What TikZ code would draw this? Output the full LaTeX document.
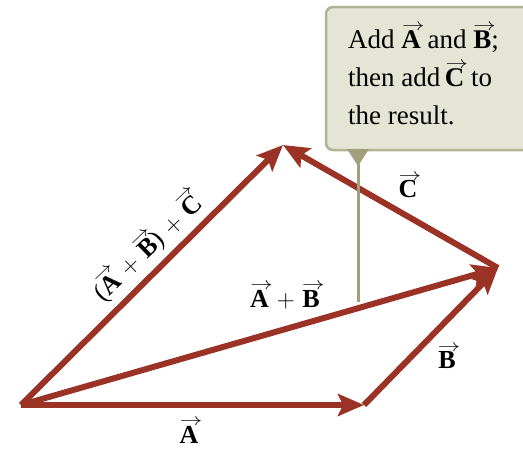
\documentclass[tikz,border=0pt]{standalone}
\usepackage{fontspec}
\setmainfont{Liberation Serif}
\usetikzlibrary{arrows.meta}
\definecolor{vecred}{RGB}{155,50,38}
\definecolor{boxfill}{RGB}{229,229,214}
\definecolor{boxline}{RGB}{178,178,150}
\definecolor{pointer}{RGB}{160,160,125}
\newcommand{\vb}[1]{\leavevmode\setbox0\hbox{\bfseries #1}%
  \rlap{\raisebox{\dimexpr\ht0+0.5pt\relax}{\hspace{0.08em}\makebox[\wd0]{\scalebox{0.9}[0.7]{$\rightarrow$}}}}\box0\relax}
\newcommand{\plusop}{\hspace{0.3em}$+$\hspace{0.3em}}
\tikzset{
  vec/.style={draw=vecred, line width=6pt, line join=miter,
    -{Stealth[length=26pt,width=22pt,inset=5pt]}},
  lbl/.style={font=\fontsize{26}{30}\selectfont, inner sep=0pt},
  calltext/.style={font=\fontsize{27}{38}\selectfont, align=left, inner sep=0pt, anchor=north west}
}
\begin{document}
\begin{tikzpicture}[x=1pt,y=-1pt]
\useasboundingbox (0,0) rectangle (523,450);
\clip (0,0) rectangle (523,450);
\coordinate (O) at (21,405);
\coordinate (A) at (364,405);
\coordinate (B) at (498,268);
\coordinate (C) at (283,145);
% vectors
\draw[vec] (O) -- (A);
\draw[vec] (A) -- (B);
\draw[vec] (O) -- (B);
\draw[vec] (B) -- (C);
\draw[vec] (O) -- (C);
% callout
\draw[fill=boxfill, draw=boxline, line width=2.5pt, rounded corners=7pt] (326,7) rectangle (560,150);
\fill[pointer] (347,149) -- (369,149) -- (358,166) -- cycle;
\draw[pointer, line width=3pt] (358,150) -- (358,302);
\node[calltext] (txt) at (348,24) {Add \vb{A} and \vb{B};\\then add\,\vb{C} to\\the result.};
% labels
\node[lbl] (la) at (189,431) {\vb{A}};
\node[lbl] (lb) at (447,357) {\vb{B}};
\node[lbl] (lc) at (408,186) {\vb{C}};
\node[lbl] (lab) at (285,296) {\vb{A}\plusop\vb{B}};
\node[lbl, rotate=44] (labc) at (147,247) {(\vb{A}\plusop\vb{B})\plusop\vb{C}};
\end{tikzpicture}
\end{document}
